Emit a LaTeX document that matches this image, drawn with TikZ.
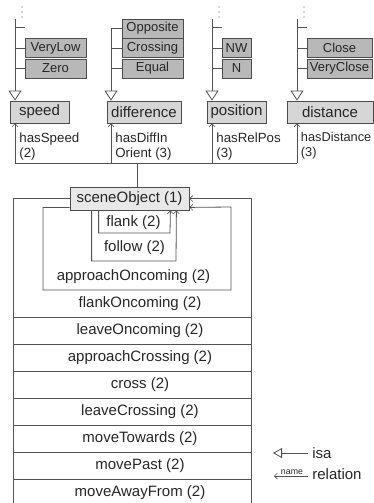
\documentclass[tikz,border=0pt]{standalone}
\usepackage{fontspec}
\setmainfont{Liberation Sans}
\usetikzlibrary{arrows.meta}

\definecolor{linegray}{gray}{0.32}
\definecolor{conceptfill}{gray}{0.84}
\definecolor{valuefill}{gray}{0.72}
\definecolor{scenefill}{gray}{0.91}

\begin{document}
\begin{tikzpicture}[x=1pt, y=-1pt, line width=0.8pt, color=linegray, text=black!85,
    concept/.style={draw=black!70, fill=conceptfill, inner sep=0pt, minimum height=22pt, font=\fontsize{15}{17}\selectfont},
    value/.style={draw=black!70, fill=valuefill, inner sep=0pt, minimum height=19pt, font=\fontsize{13}{15}\selectfont},
    rellabel/.style={anchor=north west, align=left, inner sep=0pt, font=\fontsize{13.3}{15}\selectfont},
    rowtext/.style={inner sep=0pt, font=\fontsize{15}{17}\selectfont},
    isa/.style={-{Triangle[open, length=10pt, width=13pt, line width=0.8pt]}},
    rel/.style={-{Straight Barb[length=3pt, width=6pt, line width=0.6pt]}}]
    \useasboundingbox (0,0) rectangle (374,503);
    \clip (0,0) rectangle (374,503);

    % --- speed ---
    \node[value, minimum width=61pt] (veryLow) at (55.5,48) {VeryLow};
    \node[value, minimum width=61pt] (zero) at (55.5,68.5) {Zero};
    \node[concept, minimum width=59pt] (speed) at (39.5,112) {speed};
    \coordinate (spdTop) at (15,19);
    \draw[isa] (spdTop) -- (spdTop |- speed.north);
    \draw (15,27) -- (25,27);
    \draw (veryLow.west -| spdTop) -- (veryLow.west);
    \draw (zero.west -| spdTop) -- (zero.west);

    % --- difference ---
    \node[value, minimum width=61pt] (opposite) at (152.5,28.5) {Opposite};
    \node[value, minimum width=61pt] (crossing) at (152.5,48) {Crossing};
    \node[value, minimum width=61pt] (equal) at (152.5,68.5) {Equal};
    \node[concept, minimum width=74pt] (difference) at (144,112) {difference};
    \coordinate (difTop) at (opposite.west -| 111,0);
    \draw[isa] (difTop) -- (difTop |- difference.north);
    \draw (difTop) -- (opposite.west);
    \draw (crossing.west -| difTop) -- (crossing.west);
    \draw (equal.west -| difTop) -- (equal.west);

    % --- position ---
    \node[value, minimum width=29pt] (nw) at (236.5,48) {NW};
    \node[value, minimum width=29pt] (n) at (236.5,68.5) {N};
    \node[concept, minimum width=59pt] (position) at (236.5,112) {position};
    \coordinate (posTop) at (212,19);
    \draw[isa] (posTop) -- (posTop |- position.north);
    \draw (212,27) -- (222,27);
    \draw (nw.west -| posTop) -- (nw.west);
    \draw (n.west -| posTop) -- (n.west);

    % --- distance ---
    \node[value, minimum width=65pt] (close) at (339.5,48) {Close};
    \node[value, minimum width=65pt] (veryClose) at (339.5,68.5) {VeryClose};
    \node[concept, minimum width=86pt] (distance) at (330,112) {distance};
    \coordinate (dstTop) at (297,19);
    \draw[isa] (dstTop) -- (dstTop |- distance.north);
    \draw (297,27) -- (307,27);
    \draw (close.west -| dstTop) -- (close.west);
    \draw (veryClose.west -| dstTop) -- (veryClose.west);

    % open ends
    \foreach \x in {22, 219, 304}
        \foreach \y in {7, 12, 17}
            \fill (\x,\y) circle (0.6pt);

    % --- relations to sceneObject ---
    \node[concept, fill=scenefill, minimum width=119pt, minimum height=23pt] (scene) at (129.5,198.5) {sceneObject (1)};
    \coordinate (hasSpd) at (15,163);
    \coordinate (hasDif) at (111,163);
    \coordinate (hasPos) at (212,163);
    \coordinate (hasDst) at (297,163);
    \coordinate (bus) at (137,163);
    \draw (hasSpd) -- (hasDst);
    \draw (bus) -- (bus |- scene.north);
    \draw[rel] (hasSpd) -- (hasSpd |- speed.south);
    \draw[rel] (hasDif) -- (hasDif |- difference.south);
    \draw[rel] (hasPos) -- (hasPos |- position.south);
    \draw[rel] (hasDst) -- (hasDst |- distance.south);
    \node[rellabel] (lblSpd) at (19,132) {hasSpeed\\(2)};
    \node[rellabel] (lblDif) at (115,132) {hasDiffIn\\Orient (3)};
    \node[rellabel] (lblPos) at (216,132) {hasRelPos\\(3)};
    \node[rellabel, font=\fontsize{12.8}{15}\selectfont] (lblDst) at (300.5,132) {hasDistance\\(3)};

    % --- loops on sceneObject ---
    \draw (scene.west) -| (13.5,510);
    \draw[rel] (251,510) |- (scene.east);
    \draw[rel] ([yshift=3pt]scene.south west) -| (43,290) -| (231,207) -- ([yshift=3pt]scene.south east);
    \draw[rel] ([xshift=22pt]scene.south west) |- (176,261) -- ([xshift=-13pt]scene.south east);
    \draw[rel] ([xshift=29pt]scene.south west) |- (170,233) -- ([xshift=-19pt]scene.south east);
    \node[rowtext] (flank) at (133.5,223) {flank (2)};
    \node[rowtext] (follow) at (134.5,248) {follow (2)};
    \node[rowtext] (approach) at (133.5,277) {approachOncoming (2)};

    \foreach \name [count=\i] in {flankOncoming, leaveOncoming, approachCrossing, cross,
                                  leaveCrossing, moveTowards, movePast, moveAwayFrom} {
        \node[rowtext] (row\i) at (140,{290+27*\i-13.5}) {\name\ (2)};
        \draw (13.5,{290+27*\i}) -- (251,{290+27*\i});
    }

    % --- legend ---
    \node[rowtext, anchor=west] (isaTxt) at (312,453) {isa};
    \coordinate (isaTip) at (273,453);
    \draw[-{Triangle[open, length=9pt, width=10pt, line width=0.8pt]}] ([xshift=-4pt]isaTxt.west) -- (isaTip);
    \node[rowtext, anchor=west] (relTxt) at (312,474) {relation};
    \coordinate (relEnd) at (308,476);
    \coordinate (relTip) at (274,476);
    \draw[rel] (relEnd) -- (relTip);
    \node[inner sep=0pt, anchor=south, font=\fontsize{8.8}{9}\selectfont] (relName) at (292,474.5) {name};
\end{tikzpicture}
\end{document}
